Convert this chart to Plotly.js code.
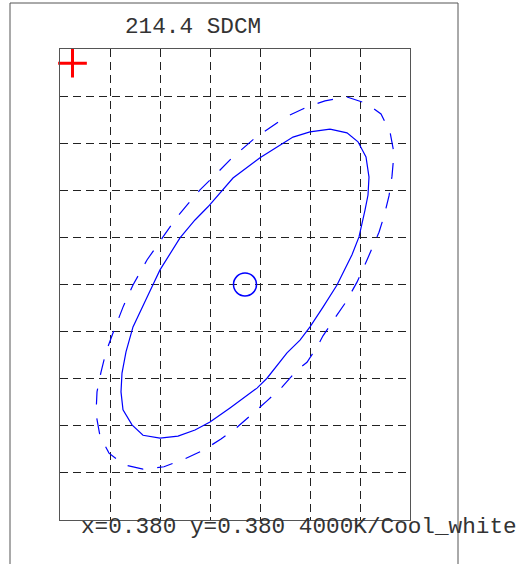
<!DOCTYPE html>
<html>
<head>
<meta charset="utf-8">
<script src="https://cdn.plot.ly/plotly-3.0.1.min.js"></script>
<style>html,body{margin:0;padding:0;background:#fff;}#chart{width:530px;height:564px;}</style>
</head>
<body>
<div id="chart"></div>
<script>
// Solid ellipse (chromaticity x, y)
const solidX = [0.3970,0.4004,0.4026,0.4042,0.4048,0.4046,0.4040,0.4028,0.4014,0.3984,0.3956,0.3930,0.3910,0.3884,0.3844,0.3824,0.3770,0.3730,0.3700,0.3666,0.3630,0.3596,0.3574,0.3556,0.3552,0.3554,0.3562,0.3576,0.3614,0.3630,0.3670,0.3700,0.3726,0.3776,0.3830,0.3896,0.3930,0.3970];
const solidY = [0.4130,0.4122,0.4103,0.4071,0.4028,0.3990,0.3958,0.3901,0.3863,0.3799,0.3752,0.3710,0.3682,0.3655,0.3601,0.3580,0.3538,0.3508,0.3491,0.3478,0.3474,0.3480,0.3502,0.3534,0.3572,0.3612,0.3657,0.3710,0.3795,0.3831,0.3899,0.3937,0.3965,0.4026,0.4069,0.4113,0.4124,0.4130];
// Dashed ellipse
const dashedX = [0.4004,0.4042,0.4072,0.4090,0.4098,0.4094,0.4088,0.4078,0.4068,0.4056,0.4044,0.4024,0.4002,0.3980,0.3956,0.3944,0.3924,0.3904,0.3874,0.3844,0.3826,0.3804,0.3780,0.3752,0.3718,0.3680,0.3638,0.3596,0.3558,0.3528,0.3510,0.3502,0.3504,0.3512,0.3522,0.3536,0.3556,0.3576,0.3604,0.3636,0.3664,0.3686,0.3710,0.3740,0.3774,0.3820,0.3848,0.3882,0.3920,0.3960,0.4004];
const dashedY = [0.4198,0.4185,0.4162,0.4124,0.4079,0.4030,0.3988,0.3945,0.3911,0.3880,0.3852,0.3805,0.3763,0.3729,0.3691,0.3667,0.3635,0.3618,0.3582,0.3553,0.3536,0.3514,0.3493,0.3472,0.3449,0.3430,0.3413,0.3408,0.3417,0.3442,0.3478,0.3525,0.3572,0.3614,0.3657,0.3697,0.3752,0.3799,0.3852,0.3901,0.3943,0.3971,0.4001,0.4032,0.4069,0.4111,0.4132,0.4156,0.4175,0.4190,0.4198];
// Measured point and reference marker
const pointX = [0.380];
const pointY = [0.380];
const markX = [0.3455];
const markY = [0.4270];
// Axis ranges / grid spacing
const xRange = [0.343, 0.413];
const yRange = [0.330, 0.430];
const gridStep = 0.01;
// Texts
const titleText = "214.4 SDCM";
const infoText = "x=0.380 y=0.380 4000K/Cool_white";

const mono = "Liberation Mono, Courier New, monospace";

const traces = [
  {x: dashedX, y: dashedY, mode: 'lines', line: {color: '#0000ff', width: 1.2, dash: '16px,14px'}, hoverinfo: 'skip'},
  {x: solidX, y: solidY, mode: 'lines', line: {color: '#0000ff', width: 1.2}, hoverinfo: 'skip'},
  {x: pointX, y: pointY, mode: 'markers', marker: {symbol: 'circle-open', size: 23, color: '#0000ff', line: {width: 1.5, color: '#0000ff'}}, hoverinfo: 'skip'},
  {x: markX, y: markY, mode: 'markers', cliponaxis: false, marker: {symbol: 'cross-thin-open', size: 20.5, color: '#ff0000', line: {width: 3, color: '#ff0000'}}, hoverinfo: 'skip'}
];

const axisCommon = {
  showgrid: true, gridcolor: '#222', gridwidth: 1, griddash: '8px,5px',
  showline: true, mirror: true, linecolor: '#555', linewidth: 1,
  zeroline: false, showticklabels: false, ticks: '', dtick: gridStep, fixedrange: true
};

const layout = {
  width: 530, height: 564,
  margin: {l: 60, r: 120, t: 49, b: 44, pad: 0},
  paper_bgcolor: '#fff', plot_bgcolor: '#fff',
  showlegend: false,
  xaxis: Object.assign({}, axisCommon, {range: xRange, tick0: xRange[0]}),
  yaxis: Object.assign({}, axisCommon, {range: yRange, tick0: yRange[0]}),
  shapes: [
    {type: 'rect', xref: 'paper', yref: 'paper', x0: -0.142857, x1: 1.137143, y0: -0.2, y1: 1.09766,
     line: {color: '#555', width: 1}, fillcolor: 'rgba(0,0,0,0)', layer: 'below'}
  ],
  annotations: [
    {text: titleText, xref: 'paper', yref: 'paper', x: 0.18, y: 1.0467, xanchor: 'left', yanchor: 'middle',
     showarrow: false, font: {family: mono, size: 22.7, color: '#333'}},
    {text: infoText, xref: 'paper', yref: 'paper', x: 0.0543, y: -0.0149, xanchor: 'left', yanchor: 'middle',
     showarrow: false, font: {family: mono, size: 22.7, color: '#333'}}
  ]
};

Plotly.newPlot('chart', traces, layout, {displayModeBar: false, staticPlot: true});
</script>
</body>
</html>
